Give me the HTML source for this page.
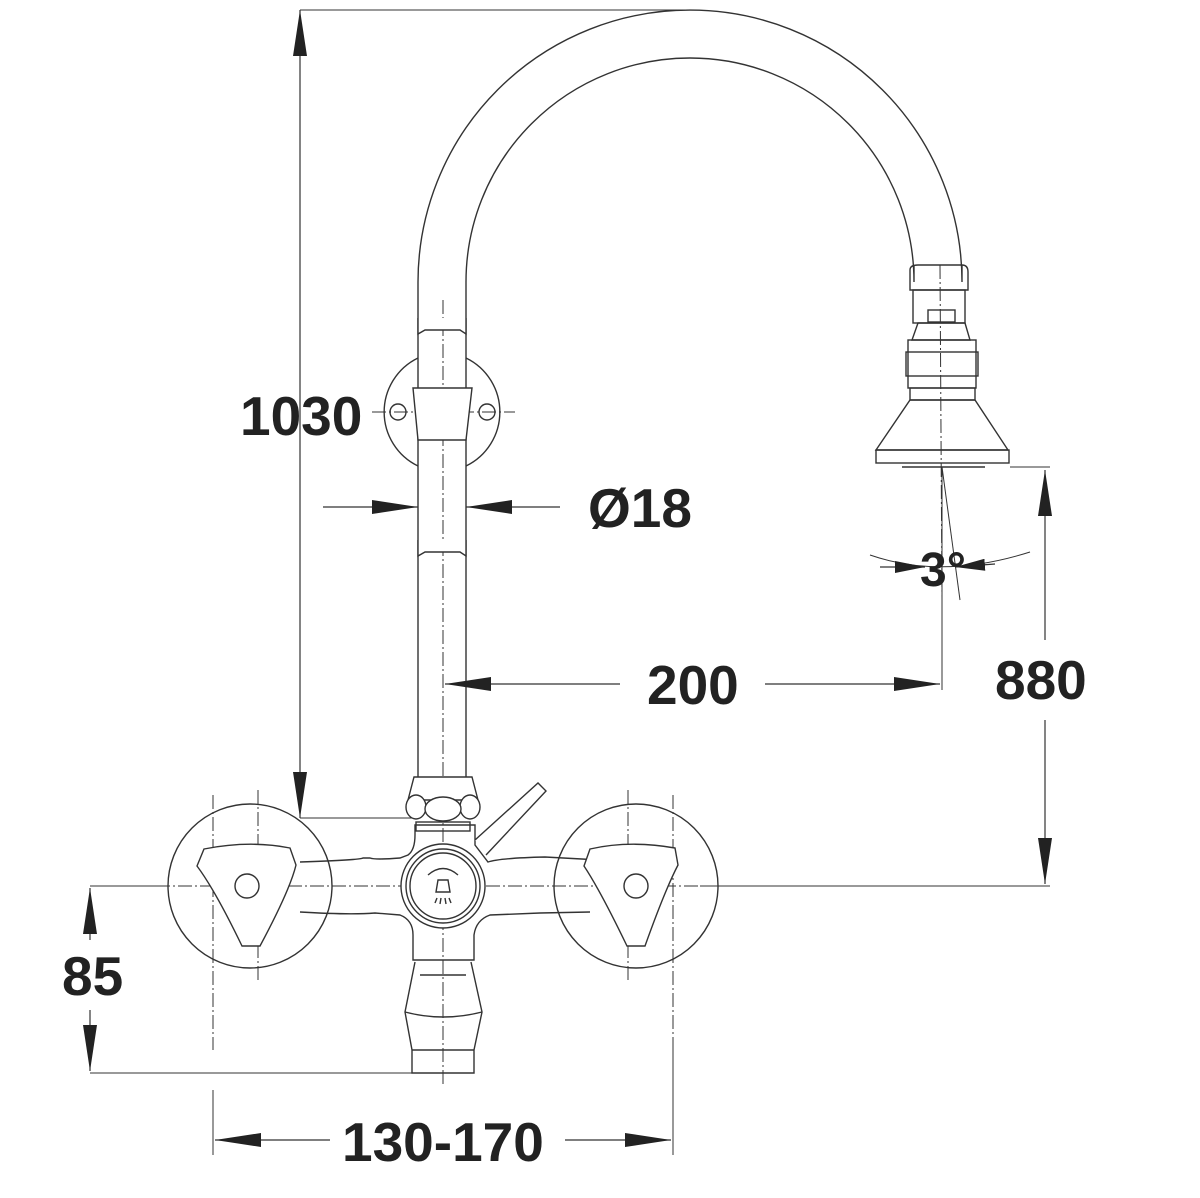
<!DOCTYPE html>
<html><head><style>html,body{margin:0;padding:0;background:#fff}svg{display:block}</style></head>
<body>
<svg width="1200" height="1198" viewBox="0 0 1200 1198" xmlns="http://www.w3.org/2000/svg">
<defs>
<marker id="a" viewBox="0 0 10 10" refX="10" refY="5" markerWidth="46" markerHeight="14" markerUnits="userSpaceOnUse" orient="auto" preserveAspectRatio="none"><path d="M0,0 L10,5 L0,10 Z" fill="#222"/></marker>
<marker id="b" viewBox="0 0 10 10" refX="10" refY="5" markerWidth="30" markerHeight="12" markerUnits="userSpaceOnUse" orient="auto" preserveAspectRatio="none"><path d="M0,0 L10,5 L0,10 Z" fill="#222"/></marker>
</defs>
<g fill="none" stroke="#333" stroke-width="1.4">
<g stroke-dasharray="14,3,2,3" stroke-width="1">
<line x1="443" y1="300" x2="443" y2="1085"/>
<line x1="90" y1="886" x2="720" y2="886"/>
<line x1="258" y1="790" x2="258" y2="980"/>
<line x1="628" y1="790" x2="628" y2="980"/>
<line x1="213" y1="795" x2="213" y2="1050"/>
<line x1="673" y1="795" x2="673" y2="1050"/>
<line x1="372" y1="412" x2="515" y2="412"/>
<line x1="940" y1="265" x2="942" y2="600"/>
</g>
<g stroke-width="1">
<line x1="300" y1="10" x2="690" y2="10"/>
<line x1="300" y1="818" x2="420" y2="818"/>
<line x1="90" y1="886" x2="170" y2="886"/>
<line x1="90" y1="1073" x2="412" y2="1073"/>
<line x1="213" y1="1090" x2="213" y2="1155"/>
<line x1="673" y1="1050" x2="673" y2="1155"/>
<line x1="700" y1="886" x2="1050" y2="886"/>
<line x1="1010" y1="467" x2="1050" y2="467"/>
<line x1="942" y1="467" x2="942" y2="690"/>
<line x1="942" y1="467" x2="960" y2="600"/>
<path d="M870,555 Q942,580 1030,552"/>
</g>
<path d="M418,790 L418,282 A272,272 0 0 1 962,282 L962,265"/>
<path d="M466,790 L466,282 A224,224 0 0 1 914,282 L914,265"/>
<g fill="#fff">
<path d="M418,318 L418,334 L425,330 L460,330 L466,334 L466,318"/>
<path d="M418,540 L418,556 L425,552 L460,552 L466,556 L466,540"/>
</g>
<path d="M418,358 A60,60 0 0 0 418,466"/>
<path d="M466,358 A60,60 0 0 1 466,466"/>
<path d="M413,388 L472,388 L466,440 L418,440 Z" fill="#fff"/>
<circle cx="398" cy="412" r="8"/><circle cx="487" cy="412" r="8"/>
<path d="M910,270 Q910,265 918,265 L962,265 Q968,265 968,272 L968,290 L910,290 Z"/>
<rect x="913" y="290" width="52" height="33"/>
<rect x="928" y="310" width="27" height="12"/>
<path d="M918,323 L965,323 L970,340 L912,340 Z"/>
<rect x="908" y="340" width="68" height="48"/>
<rect x="906" y="352" width="72" height="24"/>
<rect x="910" y="388" width="65" height="12"/>
<path d="M910,400 L975,400 L1008,450 L876,450 Z"/>
<rect x="876" y="450" width="133" height="13"/>
<line x1="902" y1="467" x2="985" y2="467"/>
<circle cx="250" cy="886" r="82"/>
<circle cx="636" cy="886" r="82"/>
<path d="M300,862 Q360,860 363,858 L370,858 Q375,860 400,858 L408,855 Q415,850 415,835 L415,825 L475,825 L475,845 L488,862 Q500,858 545,857 L600,860"/>
<path d="M300,912 Q350,915 375,913 L400,915 Q413,920 413,935 L413,960 L474,960 L474,935 Q476,920 490,915 L540,913 L590,912"/>
<path d="M204,849 Q250,840 290,848 L296,865 Q290,890 260,946 L242,946 Q215,890 197,866 Z" fill="#fff"/>
<path d="M590,849 Q630,840 675,848 L678,865 Q665,890 645,946 L627,946 Q600,890 584,866 Z" fill="#fff"/>
<circle cx="247" cy="886" r="12"/><circle cx="636" cy="886" r="12"/>
<circle cx="443" cy="886" r="42" fill="#fff"/>
<circle cx="443" cy="886" r="37"/>
<circle cx="443" cy="886" r="33"/>
<path d="M428,875 Q443,862 458,875"/>
<path d="M438,880 L448,880 L450,892 L436,892 Z"/>
<path d="M437,898 L435,903 M441,898 L440,904 M445,898 L446,904 M449,898 L451,903"/>
<path d="M475,840 L538,783 L546,791 L486,855" fill="#fff"/>
<path d="M414,777 L472,777 L478,800 L408,800 Z" fill="#fff"/>
<ellipse cx="416" cy="807" rx="10" ry="12" fill="#fff"/>
<ellipse cx="470" cy="807" rx="10" ry="12" fill="#fff"/>
<ellipse cx="443" cy="809" rx="18" ry="12" fill="#fff"/>
<rect x="416" y="822" width="54" height="9"/>
<line x1="420" y1="975" x2="466" y2="975"/>
<path d="M415,962 L405,1012 L412,1050 L412,1073 L474,1073 L474,1050 L482,1012 L471,962"/>
<path d="M405,1012 Q443,1022 482,1012"/>
<line x1="412" y1="1050" x2="474" y2="1050"/>
</g>
<g stroke="#333" stroke-width="1.2" fill="none">
<line x1="300" y1="415" x2="300" y2="10" marker-end="url(#a)"/>
<line x1="300" y1="415" x2="300" y2="818" marker-end="url(#a)"/>
<line x1="323" y1="507" x2="418" y2="507" marker-end="url(#a)"/>
<line x1="560" y1="507" x2="466" y2="507" marker-end="url(#a)"/>
<line x1="620" y1="684" x2="445" y2="684" marker-end="url(#a)"/>
<line x1="765" y1="684" x2="940" y2="684" marker-end="url(#a)"/>
<line x1="1045" y1="640" x2="1045" y2="470" marker-end="url(#a)"/>
<line x1="1045" y1="720" x2="1045" y2="884" marker-end="url(#a)"/>
<line x1="90" y1="940" x2="90" y2="888" marker-end="url(#a)"/>
<line x1="90" y1="1010" x2="90" y2="1071" marker-end="url(#a)"/>
<line x1="330" y1="1140" x2="215" y2="1140" marker-end="url(#a)"/>
<line x1="565" y1="1140" x2="671" y2="1140" marker-end="url(#a)"/>
<line x1="880" y1="567" x2="925" y2="567" marker-end="url(#b)"/>
<line x1="995" y1="564" x2="955" y2="567" marker-end="url(#b)"/>
</g>
<g font-family="Liberation Sans, sans-serif" font-weight="bold" font-size="55" fill="#222">
<text x="240" y="435">1030</text>
<text x="588" y="527">Ø18</text>
<text x="647" y="704">200</text>
<text x="995" y="699">880</text>
<text x="62" y="995">85</text>
<text x="342" y="1161">130-170</text>
<text x="920" y="586" font-size="48">3°</text>
</g>
</svg>
</body></html>
